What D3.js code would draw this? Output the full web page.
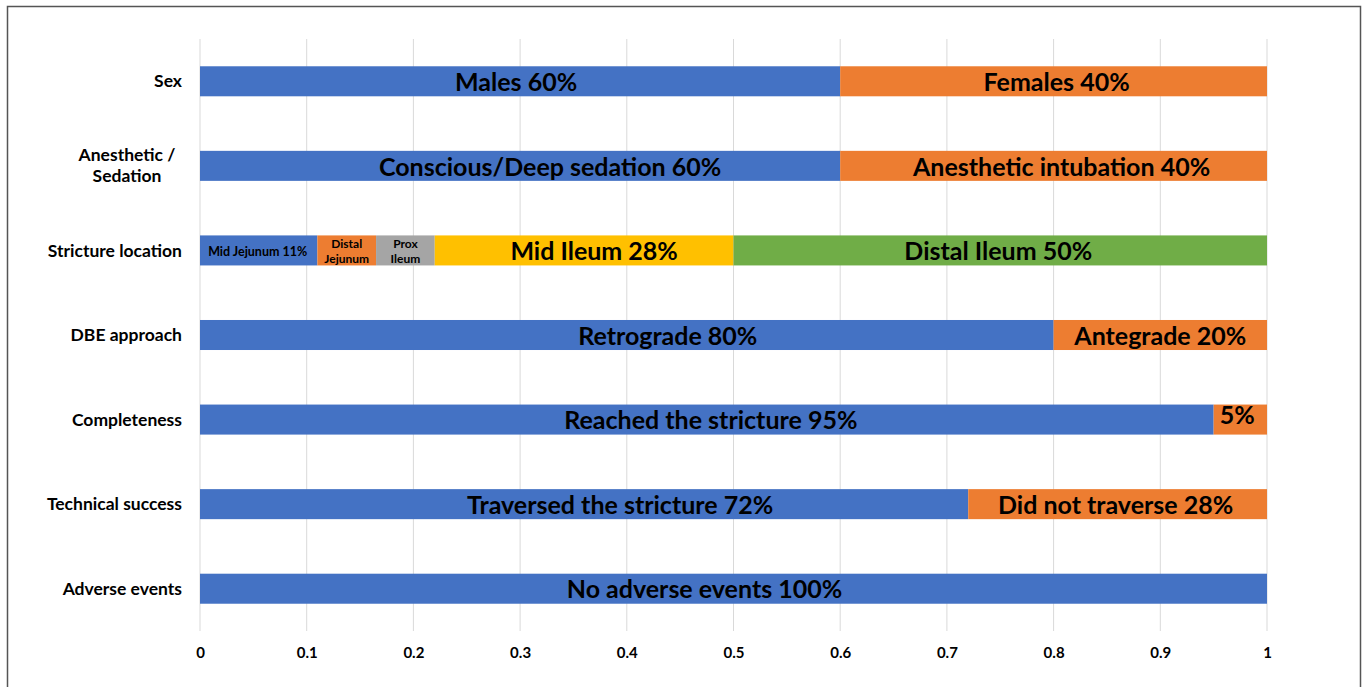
<!DOCTYPE html>
<html>
<head>
<meta charset="utf-8">
<script src="https://cdn.jsdelivr.net/npm/d3@7"></script>
<style>
  body { margin: 0; background: #fff; }
  svg { display: block; font-family: Lato, "Open Sans", sans-serif; }
</style>
</head>
<body>
<svg id="chart" width="1367" height="687"></svg>
<script>
// row categories, top to bottom
const categories = ["Sex", "Anesthetic / Sedation", "Stricture location", "DBE approach", "Completeness", "Technical success", "Adverse events"];

// segment values per row (share of 1)
const sexValues = [0.6, 0.4];
const sedationValues = [0.6, 0.4];
const strictureValues = [0.11, 0.055, 0.055, 0.28, 0.5];
const approachValues = [0.8, 0.2];
const completenessValues = [0.95, 0.05];
const successValues = [0.72, 0.28];
const adverseValues = [1.0];

// segment labels per row
const sexLabels = ["Males 60%", "Females 40%"];
const sedationLabels = ["Conscious/Deep sedation 60%", "Anesthetic intubation 40%"];
const strictureLabels = ["Mid Jejunum 11%", "Distal\nJejunum", "Prox\nIleum", "Mid Ileum 28%", "Distal Ileum 50%"];
const approachLabels = ["Retrograde 80%", "Antegrade 20%"];
const completenessLabels = ["Reached the stricture 95%", "5%"];
const successLabels = ["Traversed the stricture 72%", "Did not traverse 28%"];
const adverseLabels = ["No adverse events 100%"];

const tickValues = [0, 0.1, 0.2, 0.3, 0.4, 0.5, 0.6, 0.7, 0.8, 0.9, 1];

const palette = ["#4472C4", "#ED7D31", "#A5A5A5", "#FFC000", "#70AD47"];

// hand-dragged label offsets in the original (px)
const labelNudge = {
  "Males 60%": -4, "Conscious/Deep sedation 60%": 30, "Anesthetic intubation 40%": 8,
  "Mid Ileum 28%": 10, "Distal Ileum 50%": -2, "Retrograde 80%": 41, "Reached the stricture 95%": 4,
  "5%": -3, "Traversed the stricture 72%": 36, "Did not traverse 28%": -2, "No adverse events 100%": -29,
  "Females 40%": 3, "Mid Jejunum 11%": -1
};

const rows = [
  [sexValues, sexLabels],
  [sedationValues, sedationLabels],
  [strictureValues, strictureLabels],
  [approachValues, approachLabels],
  [completenessValues, completenessLabels],
  [successValues, successLabels],
  [adverseValues, adverseLabels]
].map(function (r, i) {
  let acc = 0;
  return r[0].map(function (v, j) {
    const seg = { row: categories[i], x0: acc, x1: acc + v, label: r[1][j], color: palette[j] };
    acc += v;
    return seg;
  });
});

const svg = d3.select("#chart");
const W = +svg.attr("width"), H = +svg.attr("height");

// outer frame
svg.append("rect")
  .attr("x", 7.5).attr("y", 6.5)
  .attr("width", 1353).attr("height", 690)
  .attr("fill", "none").attr("stroke", "#555").attr("stroke-width", 1.5);

const margin = { left: 200, right: 100, top: 39, bottom: 56 };
const x = d3.scaleLinear().domain([0, 1]).range([margin.left, W - margin.right]);
const y = d3.scaleBand().domain(categories).range([margin.top, H - margin.bottom]).paddingInner(0.645).paddingOuter(0.3225);

// gridlines
svg.append("g").selectAll("line").data(tickValues).join("line")
  .attr("x1", d => x(d)).attr("x2", d => x(d))
  .attr("y1", margin.top).attr("y2", H - margin.bottom)
  .attr("stroke", "#d9d9d9").attr("stroke-width", 1);

// x axis
const xAxis = svg.append("g")
  .attr("transform", "translate(0," + (H - margin.bottom) + ")")
  .call(d3.axisBottom(x).tickValues(tickValues).tickSize(0).tickPadding(16).tickFormat(d3.format("~g")));
xAxis.select(".domain").remove();
xAxis.selectAll("text").attr("font-size", 15).attr("font-weight", "bold").attr("fill", "#000")
  .attr("font-family", "Lato, sans-serif");

// y category labels
const yLab = svg.append("g").selectAll("text").data(categories).join("text")
  .attr("y", d => y(d) + y.bandwidth() / 2)
  .attr("text-anchor", "end")
  .attr("font-size", 17.5).attr("font-weight", "bold").attr("fill", "#000");
yLab.each(function (d) {
  const parts = d === "Anesthetic / Sedation" ? ["Anesthetic /", "Sedation"] : [d];
  const t = d3.select(this);
  parts.forEach(function (p, k) {
    t.append("tspan").attr("x", 182)
      .attr("dy", k === 0 ? (-(parts.length - 1) * 0.6 + 0.35) + "em" : "1.2em")
      .text(p);
  });
});
// center-align wrapped label lines like the original
yLab.filter(d => d === "Anesthetic / Sedation").attr("text-anchor", "middle")
  .selectAll("tspan").attr("x", 127);

// bars
const segs = rows.flat();
svg.append("g").selectAll("rect").data(segs).join("rect")
  .attr("x", d => x(d.x0))
  .attr("y", d => y(d.row))
  .attr("width", d => x(d.x1) - x(d.x0))
  .attr("height", y.bandwidth())
  .attr("fill", d => d.color);

// segment labels
const labX = d => (x(d.x0) + x(d.x1)) / 2 + (labelNudge[d.label] || 0);
const labs = svg.append("g").selectAll("text").data(segs).join("text")
  .attr("x", labX)
  .attr("y", d => y(d.row) + y.bandwidth() / 2 + (d.label === "5%" ? -4 : 1))
  .attr("text-anchor", "middle")
  .attr("font-weight", "bold").attr("fill", "#000")
  .attr("font-size", d => d.label.indexOf("\n") >= 0 ? 12 : (d.x1 - d.x0 < 0.12 && d.label !== "5%" ? 12.5 : 25));
labs.each(function (d) {
  const parts = d.label.split("\n");
  const t = d3.select(this);
  parts.forEach(function (p, k) {
    t.append("tspan").attr("x", labX(d))
      .attr("dy", k === 0 ? (-(parts.length - 1) * 0.6 + 0.35) + "em" : "1.2em")
      .text(p);
  });
});
</script>
</body>
</html>
